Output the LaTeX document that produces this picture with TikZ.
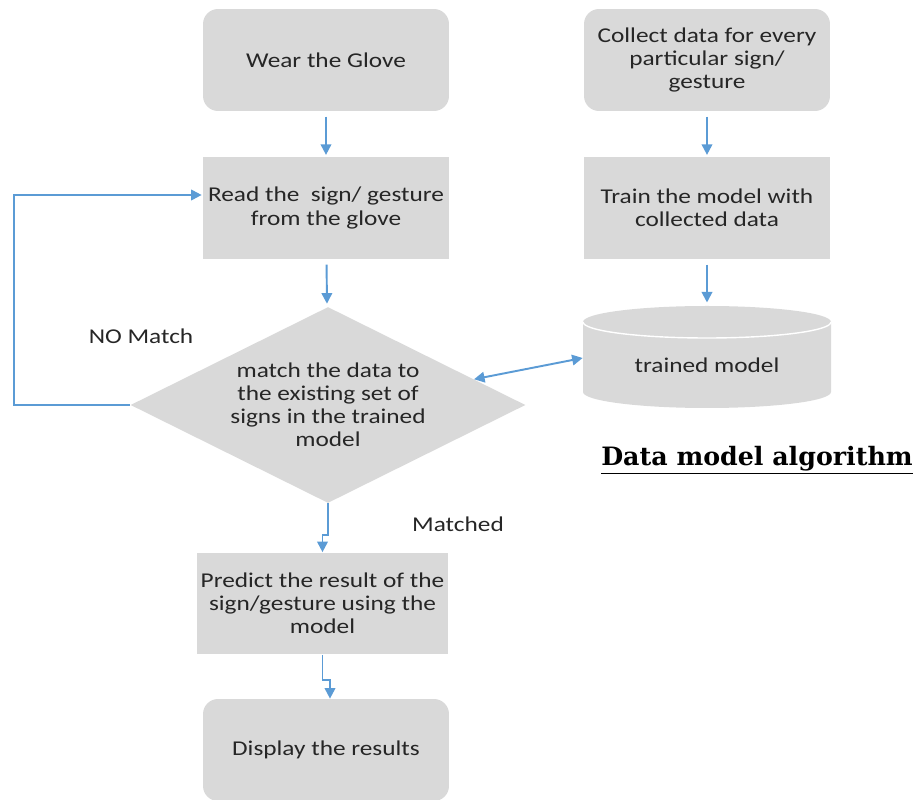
\documentclass[tikz,border=0pt]{standalone}
\usepackage{fontspec}
\setmainfont{Carlito}[FakeStretch=1.2]
\newfontfamily\titlefont{DejaVu Serif}
\usepackage{tikz}
\usetikzlibrary{positioning,arrows.meta,shapes.geometric,calc}
\definecolor{boxgray}{HTML}{D9D9D9}
\definecolor{flowblue}{HTML}{5B9BD5}
\definecolor{inkgray}{HTML}{262626}
\tikzset{
  stepbox/.style={fill=boxgray,text=inkgray,align=center,minimum width=4.92cm,minimum height=2.04cm,inner sep=2pt,font=\fontsize{12}{13.1}\selectfont},
  roundbox/.style={stepbox,rounded corners=0.3cm},
  decide/.style={diamond,aspect=2,fill=boxgray,text=inkgray,align=center,inner sep=0pt,minimum width=7.9cm,minimum height=3.92cm,font=\fontsize{12}{13.1}\selectfont},
  arr/.style={-{Triangle[length=6pt,width=6pt]},flowblue,line width=1.1pt},
  darr/.style={arr,{Triangle[length=6pt,width=6pt]}-{Triangle[length=6pt,width=6pt]}},
  lbl/.style={text=inkgray,font=\fontsize{12}{13.1}\selectfont}
}

\begin{document}
\begin{tikzpicture}[x=0.02cm,y=-0.02cm]
\useasboundingbox (0,0) rectangle (917,800);
% left column
\node[roundbox] (glove) at (326,60) {Wear the Glove};
\node[stepbox] (read) at (326,208) {Read the\ \ sign/ gesture\\from the glove};
\node[decide] (match) at (328,405) {match the data to\\the existing set of\\signs in the trained\\model};
\node[stepbox] (predict) at (322.5,603.5) {Predict the result of the\\sign/gesture using the\\model};
\node[roundbox] (show) at (326,750) {Display the results};
% right column
\node[roundbox] (collect) at (707,60) {Collect data for every\\particular sign/\\gesture};
\node[stepbox] (train) at (707,208) {Train the model with\\collected data};
% the database drum
\fill[boxgray] (583,322) -- (583,392) arc (180:0:124 and 16) -- (831,322) arc (0:-180:124 and 16) -- cycle;
\draw[white,line width=0.8pt] (583,322) arc (180:0:124 and 16);
\node[lbl,minimum width=4.96cm,minimum height=2cm] (model) at (707,365) {trained model};
\coordinate (cyltop) at (707,306);
% labels
\node[lbl] (nomatch) at (141,336) {NO Match};
\node[lbl] (matched) at (458,524) {Matched};
\node (title) at (757,460) {\titlefont\bfseries\fontsize{14.4}{16}\selectfont\underline{Data model algorithm}};
% connectors
\draw[arr,shorten <=3pt,shorten >=1pt] (glove) -- (read);
\draw[arr,shorten <=3pt,shorten >=2pt] (read) -- (match);
\draw[arr] (match.south) -- ++(0,32) -| (predict.north);
\draw[arr] (predict.south) -- ++(0,25) -| ([xshift=0.08cm]show.north);
\draw[arr,shorten <=3pt,shorten >=1pt] (collect) -- (train);
\draw[arr,shorten <=3pt,shorten >=2pt] (train) -- (cyltop);
\draw[darr] (match.10) -- ($(model.west)+(0,-7)$);
\draw[arr] (match.west) -- ++(-116,0) |- ($(read.west)+(-1,-13)$);
\end{tikzpicture}
\end{document}
